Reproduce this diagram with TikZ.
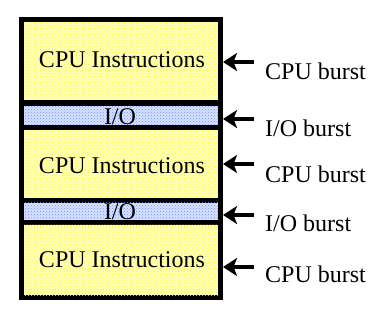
\documentclass[tikz,border=0pt]{standalone}
\usepackage{fontspec}
\setmainfont{Liberation Serif}
\usetikzlibrary{patterns,arrows.meta}
\definecolor{cpuy}{RGB}{255,255,185}
\definecolor{cpudot}{RGB}{255,250,40}
\definecolor{ioblue}{RGB}{215,225,255}
\definecolor{iodot}{RGB}{110,150,255}
\begin{document}
\begin{tikzpicture}[x=1pt,y=-1pt,
  region/.style={draw=none,inner sep=0pt,outer sep=0pt,minimum width=194pt,anchor=north west},
  cpureg/.style={region,fill=cpuy,postaction={pattern=crosshatch dots,pattern color=cpudot}},
  ioreg/.style={region,fill=ioblue,postaction={pattern=crosshatch dots,pattern color=iodot}},
  txt/.style={inner sep=0pt,anchor=base,font=\fontsize{24}{28}\selectfont},
  lbl/.style={inner sep=0pt,anchor=base west,font=\fontsize{24}{28}\selectfont},
  burst/.style={line width=4.5pt,-{Stealth[length=14pt,width=18pt,inset=3.5pt]}}]
\useasboundingbox (0,0) rectangle (388,312);
\fill[black] (19,17) rectangle (223,300);
\node[cpureg,minimum height=78pt] (y1) at (24,22) {};
\node[ioreg,minimum height=19pt] (b1) at (24,106) {};
\node[cpureg,minimum height=68pt] (y2) at (24,130) {};
\node[ioreg,minimum height=17pt] (b2) at (24,203) {};
\node[cpureg,minimum height=70pt] (y3) at (24,225) {};
\node[txt] (t1) at (122,68) {CPU Instructions};
\node[txt] (t2) at (120,125) {I/O};
\node[txt] (t3) at (122,174) {CPU Instructions};
\node[txt] (t4) at (120,220) {I/O};
\node[txt] (t5) at (122,268) {CPU Instructions};
\node[lbl] (l1) at (265,80) {CPU burst};
\node[lbl] (l2) at (265,137) {I/O burst};
\node[lbl] (l3) at (265,183) {CPU burst};
\node[lbl] (l4) at (265,232) {I/O burst};
\node[lbl] (l5) at (265,283) {CPU burst};
\foreach \i/\yy in {1/62,2/119,3/164,4/215,5/267}{
  \coordinate (s\i) at (254,\yy);
  \coordinate (e\i) at (223,\yy);
  \draw[burst] (s\i) -- (e\i);
}
\end{tikzpicture}
\end{document}
